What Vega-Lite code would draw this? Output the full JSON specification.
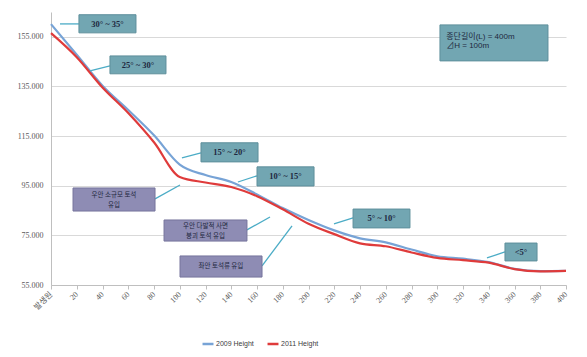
{
  "$schema": "https://vega.github.io/schema/vega-lite/v6.json",
  "width": 515,
  "height": 273,
  "autosize": "none",
  "padding": {"left": 51, "top": 12, "right": 21, "bottom": 72},
  "background": "white",
  "config": {
    "view": {"stroke": null},
    "font": "Liberation Sans"
  },
  "datasets": {
    "series": [
      {"dist": 0, "series": "2009 Height", "height": 160.1},
      {"dist": 20, "series": "2009 Height", "height": 147.8},
      {"dist": 40, "series": "2009 Height", "height": 135.3},
      {"dist": 60, "series": "2009 Height", "height": 125.5},
      {"dist": 80, "series": "2009 Height", "height": 115.3},
      {"dist": 100, "series": "2009 Height", "height": 103.5},
      {"dist": 120, "series": "2009 Height", "height": 99.3},
      {"dist": 140, "series": "2009 Height", "height": 96.5},
      {"dist": 160, "series": "2009 Height", "height": 91.5},
      {"dist": 180, "series": "2009 Height", "height": 86.0},
      {"dist": 200, "series": "2009 Height", "height": 81.2},
      {"dist": 220, "series": "2009 Height", "height": 77.0},
      {"dist": 240, "series": "2009 Height", "height": 73.8},
      {"dist": 260, "series": "2009 Height", "height": 72.2},
      {"dist": 280, "series": "2009 Height", "height": 69.3},
      {"dist": 300, "series": "2009 Height", "height": 66.6},
      {"dist": 320, "series": "2009 Height", "height": 65.6},
      {"dist": 340, "series": "2009 Height", "height": 64.2},
      {"dist": 360, "series": "2009 Height", "height": 61.5},
      {"dist": 380, "series": "2009 Height", "height": 60.6},
      {"dist": 400, "series": "2009 Height", "height": 60.7},
      {"dist": 0, "series": "2011 Height", "height": 156.5},
      {"dist": 20, "series": "2011 Height", "height": 146.8},
      {"dist": 40, "series": "2011 Height", "height": 134.6},
      {"dist": 60, "series": "2011 Height", "height": 124.3},
      {"dist": 80, "series": "2011 Height", "height": 112.5},
      {"dist": 100, "series": "2011 Height", "height": 98.5},
      {"dist": 120, "series": "2011 Height", "height": 96.3},
      {"dist": 140, "series": "2011 Height", "height": 94.5},
      {"dist": 160, "series": "2011 Height", "height": 90.8},
      {"dist": 180, "series": "2011 Height", "height": 85.5},
      {"dist": 200, "series": "2011 Height", "height": 79.7},
      {"dist": 220, "series": "2011 Height", "height": 75.5},
      {"dist": 240, "series": "2011 Height", "height": 71.8},
      {"dist": 260, "series": "2011 Height", "height": 70.6},
      {"dist": 280, "series": "2011 Height", "height": 68.1},
      {"dist": 300, "series": "2011 Height", "height": 65.9},
      {"dist": 320, "series": "2011 Height", "height": 65.0},
      {"dist": 340, "series": "2011 Height", "height": 64.0},
      {"dist": 360, "series": "2011 Height", "height": 61.4},
      {"dist": 380, "series": "2011 Height", "height": 60.5},
      {"dist": 400, "series": "2011 Height", "height": 60.7}
    ],
    "boxes": [
      {"dist": 21.7, "dist2": 66.0, "height": 163.9, "height2": 156.6, "kind": "slope"},
      {"dist": 45.8, "dist2": 89.3, "height": 147.3, "height2": 140.1, "kind": "slope"},
      {"dist": 116.5, "dist2": 160.8, "height": 112.3, "height2": 104.6, "kind": "slope"},
      {"dist": 160.0, "dist2": 204.3, "height": 102.6, "height2": 94.9, "kind": "slope"},
      {"dist": 234.6, "dist2": 278.8, "height": 85.6, "height2": 78.0, "kind": "slope"},
      {"dist": 352.6, "dist2": 377.5, "height": 71.9, "height2": 64.7, "kind": "slope"},
      {"dist": 302.1, "dist2": 386.0, "height": 159.8, "height2": 145.3, "kind": "slope"},
      {"dist": 17.1, "dist2": 80.8, "height": 94.1, "height2": 84.8, "kind": "event"},
      {"dist": 87.8, "dist2": 152.2, "height": 81.2, "height2": 72.7, "kind": "event"},
      {"dist": 100.2, "dist2": 163.9, "height": 66.7, "height2": 58.2, "kind": "event"}
    ],
    "arrows": [
      {"dist": 21.7, "height": 160.2, "dist2": 7.0, "height2": 160.2},
      {"dist": 45.8, "height": 143.3, "dist2": 30.3, "height2": 141.3},
      {"dist": 116.5, "height": 108.2, "dist2": 101.7, "height2": 106.2},
      {"dist": 160.0, "height": 99.0, "dist2": 145.2, "height2": 96.5},
      {"dist": 234.6, "height": 82.0, "dist2": 219.8, "height2": 79.6},
      {"dist": 352.6, "height": 68.3, "dist2": 338.6, "height2": 65.9},
      {"dist": 80.8, "height": 89.7, "dist2": 100.2, "height2": 95.3},
      {"dist": 152.2, "height": 77.2, "dist2": 170.1, "height2": 82.4},
      {"dist": 163.9, "height": 62.7, "dist2": 187.2, "height2": 78.8}
    ],
    "slopeLabels": [
      {"dist": 43.9, "height": 160.2, "text": "30° ~ 35°"},
      {"dist": 67.6, "height": 143.7, "text": "25° ~ 30°"},
      {"dist": 138.6, "height": 108.4, "text": "15° ~ 20°"},
      {"dist": 182.1, "height": 98.8, "text": "10° ~ 15°"},
      {"dist": 256.7, "height": 81.8, "text": "5° ~ 10°"},
      {"dist": 365.0, "height": 68.3, "text": "<5°"}
    ],
    "eventLabels": [
      {"dist": 48.9, "height": 91.4, "text": "우안 소규모 토석"},
      {"dist": 48.9, "height": 87.4, "text": "유입"},
      {"dist": 120.0, "height": 78.9, "text": "우안 다발적 사면"},
      {"dist": 120.0, "height": 74.9, "text": "붕괴 토석 유입"},
      {"dist": 132.0, "height": 62.5, "text": "좌안 토석류 유입"}
    ],
    "info": [
      {"dist": 307.0, "height": 155.0, "text": "종단길이(L) = 400m"},
      {"dist": 307.0, "height": 151.4, "text": "⊿H = 100m"}
    ]
  },
  "encoding": {
    "x": {
      "field": "dist", "type": "quantitative",
      "scale": {"domain": [0, 400], "nice": false, "zero": false},
      "axis": {
        "title": null,
        "values": [0, 20, 40, 60, 80, 100, 120, 140, 160, 180, 200, 220, 240, 260, 280, 300, 320, 340, 360, 380, 400],
        "labelExpr": "datum.value == 0 ? '발생원' : datum.label",
        "labelAngle": -45,
        "labelAlign": "right",
        "labelBaseline": "middle",
        "labelFont": "Liberation Serif, Noto Sans CJK KR",
        "labelFontSize": 8,
        "labelColor": "#595959",
        "labelPadding": 4,
        "labelOverlap": false,
        "labelFlush": false,
        "grid": false,
        "domainColor": "#bfbfbf",
        "tickColor": "#bfbfbf",
        "tickSize": 4
      }
    },
    "y": {
      "field": "height", "type": "quantitative",
      "scale": {"domain": [55, 165], "nice": false, "zero": false},
      "axis": {
        "title": null,
        "values": [55, 75, 95, 115, 135, 155],
        "format": ".3f",
        "labelFont": "Liberation Serif",
        "labelFontSize": 8,
        "labelColor": "#595959",
        "labelPadding": 8,
        "ticks": false,
        "domainColor": "#bfbfbf",
        "gridColor": "#d9d9d9",
        "gridWidth": 1
      }
    }
  },
  "layer": [
    {
      "data": {"name": "series"},
      "mark": {"type": "line", "interpolate": "monotone", "strokeWidth": 2.2},
      "encoding": {
        "color": {
          "field": "series", "type": "nominal",
          "scale": {"domain": ["2009 Height", "2011 Height"], "range": ["#77A3D6", "#DF3B3B"]},
          "legend": {
            "title": null,
            "orient": "none",
            "legendX": 150,
            "legendY": 325,
            "direction": "horizontal",
            "symbolType": "stroke",
            "symbolStrokeWidth": 2.5,
            "symbolSize": 120,
            "labelFont": "Liberation Sans",
            "labelFontSize": 7,
            "labelColor": "#404040",
            "labelOffset": 1,
            "columnPadding": 8
          }
        }
      }
    },
    {
      "data": {"name": "arrows"},
      "mark": {"type": "rule", "color": "#4BACC6", "strokeWidth": 1.3},
      "encoding": {
        "x2": {"field": "dist2"},
        "y2": {"field": "height2"}
      }
    },
    {
      "data": {"name": "boxes"},
      "mark": {"type": "rect", "strokeWidth": 1},
      "encoding": {
        "x2": {"field": "dist2"},
        "y2": {"field": "height2"},
        "fill": {"field": "kind", "type": "nominal", "scale": {"domain": ["slope", "event"], "range": ["#72A6B2", "#8E8CB4"]}, "legend": null},
        "stroke": {"field": "kind", "type": "nominal", "scale": {"domain": ["slope", "event"], "range": ["#5E8F9B", "#76749C"]}, "legend": null}
      }
    },
    {
      "data": {"name": "slopeLabels"},
      "mark": {"type": "text", "font": "Liberation Serif", "fontSize": 8.5, "fontWeight": "bold", "color": "#1E2840", "align": "center", "baseline": "middle"},
      "encoding": {
        "text": {"field": "text"}
      }
    },
    {
      "data": {"name": "eventLabels"},
      "mark": {"type": "text", "font": "Noto Sans CJK KR", "fontSize": 6.5, "color": "#1E2840", "align": "center", "baseline": "middle"},
      "encoding": {
        "text": {"field": "text"}
      }
    },
    {
      "data": {"name": "info"},
      "mark": {"type": "text", "font": "Liberation Sans, Noto Sans CJK KR", "fontSize": 8, "color": "#1E2840", "align": "left", "baseline": "middle"},
      "encoding": {
        "text": {"field": "text"}
      }
    }
  ]
}
